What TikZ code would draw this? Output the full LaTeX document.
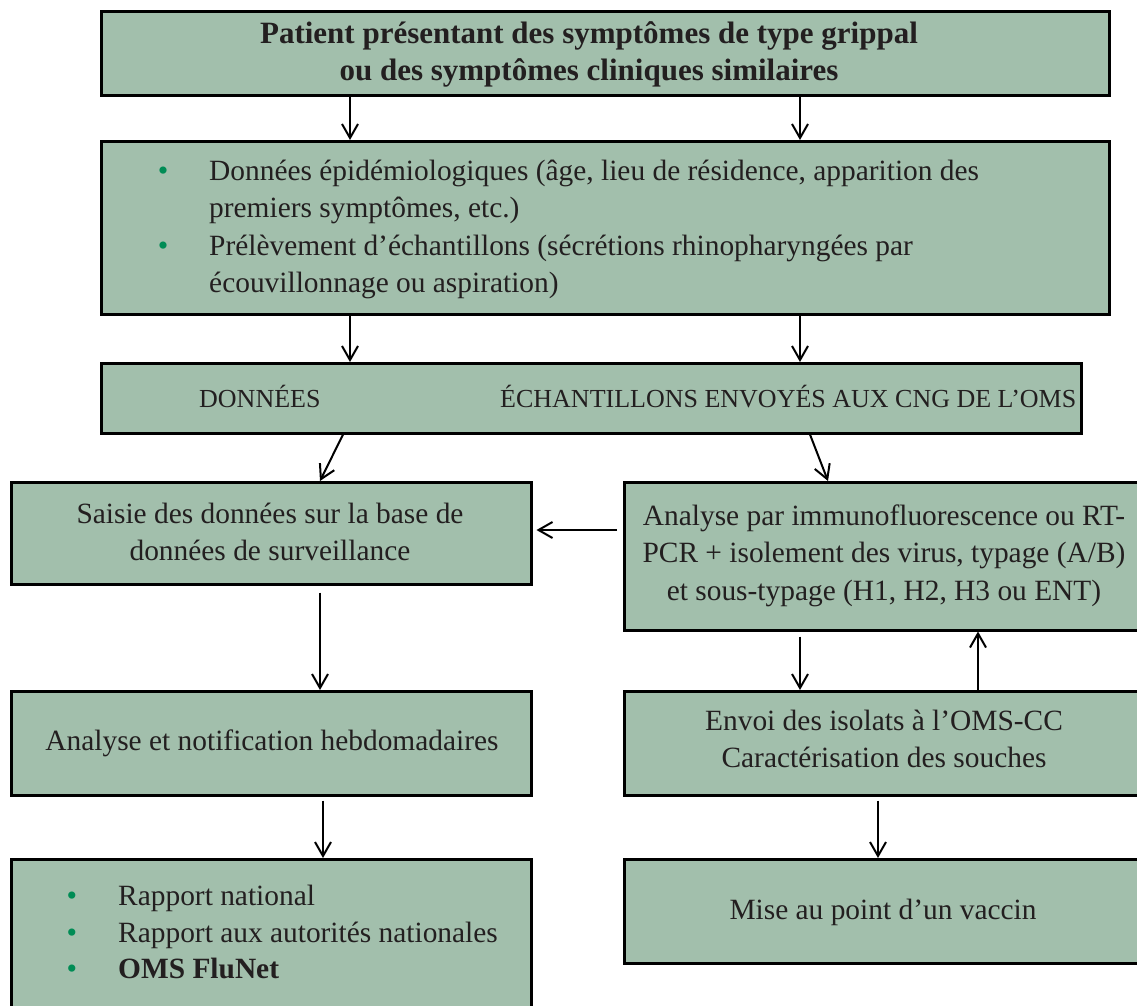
\documentclass[tikz,border=0pt]{standalone}
\usepackage{fontspec}
\setmainfont{Liberation Serif}
\usetikzlibrary{arrows.meta,calc}
\definecolor{boxgreen}{RGB}{162,191,172}
\definecolor{bulgreen}{RGB}{0,140,85}
\definecolor{txtcol}{RGB}{35,31,32}
\begin{document}
\begin{tikzpicture}[x=1pt,y=-1pt,
  box/.style={draw=black, line width=2.5pt, fill=boxgreen, inner sep=0pt, anchor=north west},
  arr/.style={-{Straight Barb[length=14pt,width=16pt,line width=2pt]}, line width=2pt},
  tx/.style={text=txtcol, font=\fontsize{29.4}{37.5}\selectfont, inner sep=0pt, anchor=base},
  txl/.style={tx, anchor=base west},
  txb/.style={tx, font=\fontsize{31}{37.5}\selectfont\bfseries},
  txc/.style={txl, font=\fontsize{26}{30}\selectfont},
  bul/.style={text=bulgreen, font=\fontsize{30}{30}\selectfont, inner sep=0pt, anchor=base}]
\path[use as bounding box, clip] (0,0) rectangle (1137,1005);
\fill[white] (0,0) rectangle (1137,1005);
% boxes
\node[box, minimum width=1008pt, minimum height=84pt] (b1) at (100,10) {};
\node[box, minimum width=1008pt, minimum height=173pt] (b2) at (100,140) {};
\node[box, minimum width=980pt, minimum height=70pt] (b3) at (100,362) {};
\node[box, minimum width=520pt, minimum height=102pt] (b4) at (10,481) {};
\node[box, minimum width=527pt, minimum height=148pt] (b5) at (623,481) {};
\node[box, minimum width=520pt, minimum height=104pt] (b6) at (10,690) {};
\node[box, minimum width=527pt, minimum height=104pt] (b7) at (623,690) {};
\node[box, minimum width=520pt, minimum height=157pt] (b8) at (10,858) {};
\node[box, minimum width=527pt, minimum height=104pt] (b9) at (623,858) {};
% texts
\node[txb] (t1a) at (589,43) {Patient présentant des symptômes de type grippal};
\node[txb] (t1b) at (589,80) {ou des symptômes cliniques similaires};
\node[bul] (u2a) at (163,180) {•};
\node[bul] (u2b) at (163,255) {•};
\node[txl] (t2a) at (209,180) {Données épidémiologiques (âge, lieu de résidence, apparition des};
\node[txl] (t2b) at (209,217.5) {premiers symptômes, etc.)};
\node[txl] (t2c) at (209,255) {Prélèvement d’échantillons (sécrétions rhinopharyngées par};
\node[txl] (t2d) at (209,292.5) {écouvillonnage ou aspiration)};
\node[txc] (t3a) at (199,407) {DONNÉES};
\node[txc] (t3b) at (500,407) {ÉCHANTILLONS ENVOYÉS AUX CNG DE L’OMS};
\node[tx] (t4a) at (270,523) {Saisie des données sur la base de};
\node[tx] (t4b) at (270,560) {données de surveillance};
\node[tx] (t5a) at (884,525) {Analyse par immunofluorescence ou RT-};
\node[tx] (t5b) at (884,562) {PCR + isolement des virus, typage (A/B)};
\node[tx] (t5c) at (884,600) {et sous-typage (H1, H2, H3 ou ENT)};
\node[tx] (t6) at (272,750) {Analyse et notification hebdomadaires};
\node[tx] (t7a) at (884,730) {Envoi des isolats à l’OMS-CC};
\node[tx] (t7b) at (884,767) {Caractérisation des souches};
\node[bul] (u8a) at (72,905) {•};
\node[bul] (u8b) at (72,942) {•};
\node[bul] (u8c) at (72,978) {•};
\node[txl] (t8a) at (118,905) {Rapport national};
\node[txl] (t8b) at (118,942) {Rapport aux autorités nationales};
\node[txl, font=\fontsize{29.4}{37.5}\selectfont\bfseries] (t8c) at (118,978) {OMS FluNet};
\node[tx] (t9) at (883,919) {Mise au point d’un vaccin};
% x positions
\coordinate (x350) at (350,0);
\coordinate (x800) at (800,0);
\coordinate (x343) at (343,0);
\coordinate (x320) at (320,0);
\coordinate (x810) at (810,0);
\coordinate (x828) at (828,0);
\coordinate (x323) at (323,0);
\coordinate (x978) at (978,0);
\coordinate (x878) at (878,0);
\coordinate (y530) at (0,530);
% connectors
\draw[arr] (b1.south -| x350) -- (b2.north -| x350);
\draw[arr] (b1.south -| x800) -- (b2.north -| x800);
\draw[arr] (b2.south -| x350) -- (b3.north -| x350);
\draw[arr] (b2.south -| x800) -- (b3.north -| x800);
\draw[arr] (b3.south -| x343) -- (b4.north -| x320);
\draw[arr] (b3.south -| x810) -- (b5.north -| x828);
\draw[arr, shorten <=6pt, shorten >=4pt] (b5.west |- y530) -- (b4.east |- y530);
\draw[arr, shorten <=7pt] (b4.south -| x320) -- (b6.north -| x320);
\draw[arr, shorten <=5pt] (b5.south -| x800) -- (b7.north -| x800);
\draw[arr] (b7.north -| x978) -- (b5.south -| x978);
\draw[arr, shorten <=4pt] (b6.south -| x323) -- (b8.north -| x323);
\draw[arr, shorten <=4pt] (b7.south -| x878) -- (b9.north -| x878);
\end{tikzpicture}
\end{document}
